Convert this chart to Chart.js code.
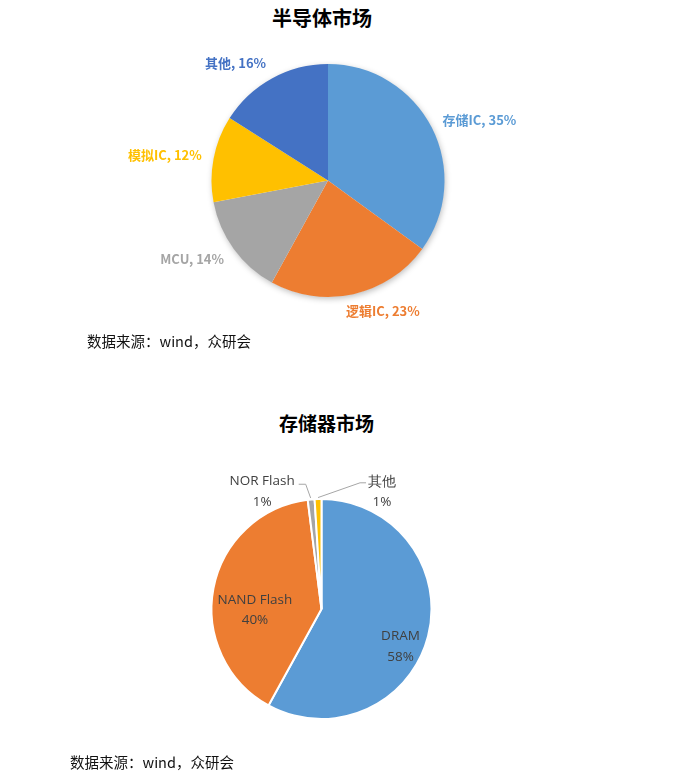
<!DOCTYPE html>
<html>
<head>
<meta charset="utf-8">
<script src="https://cdn.jsdelivr.net/npm/chart.js@4.4.0/dist/chart.umd.min.js"></script>
<style>
  html, body { margin: 0; padding: 0; background: #fff; }
  body { width: 682px; height: 779px; position: relative; overflow: hidden; }
  canvas { position: absolute; left: 0; }
  .title { position: absolute; font-family: "Noto Sans CJK SC", sans-serif; font-weight: bold; color: #000; white-space: nowrap; transform: translate(-50%, -50%); line-height: 1; }
  .src { position: absolute; font-family: "Noto Sans CJK SC", sans-serif; font-size: 14.5px; color: #111; white-space: nowrap; line-height: 1; transform: translateY(-50%); }
</style>
</head>
<body>
<div class="title" style="left:322px; top:18px; font-size:20px;">半导体市场</div>
<canvas id="c1" width="682" height="370" style="top:0;"></canvas>
<div class="src" style="left:87px; top:341px;">数据来源：wind，众研会</div>

<div class="title" style="left:326.5px; top:422px; font-size:19px;">存储器市场</div>
<canvas id="c2" width="682" height="399" style="top:380px;"></canvas>
<div class="src" style="left:70px; top:762px;">数据来源：wind，众研会</div>

<script>
// ---- Data: 半导体市场 ----
const semiLabels = ['存储IC', '逻辑IC', 'MCU', '模拟IC', '其他'];
const semiValues = [35, 23, 14, 12, 16];
const semiColors = ['#5B9BD5', '#ED7D31', '#A5A5A5', '#FFC000', '#4472C4'];

// ---- Data: 存储器市场 ----
const memLabels = ['DRAM', 'NAND Flash', 'NOR Flash', '其他'];
const memValues = [58, 40, 1, 1];
const memColors = ['#5B9BD5', '#ED7D31', '#A5A5A5', '#FFC000'];

// label placement styles for chart 2 (relative to each arc)
const memLabelPlace = [
  { type: 'in', rf: 0.795, da: 11 },
  { type: 'in', rf: 0.605, da: -11.7 },
  { type: 'out', dx: -49, dy: -8, side: 'left' },
  { type: 'out', dx: 64, dy: -7, side: 'right' }
];

const shadowPlugin = {
  id: 'pieShadow',
  beforeDatasetsDraw(chart) {
    const arc = chart.getDatasetMeta(0).data[0];
    if (!arc) return;
    const p = arc.getProps(['x', 'y', 'outerRadius'], true);
    const ctx = chart.ctx;
    ctx.save();
    ctx.shadowColor = 'rgba(0,0,0,0.28)';
    ctx.shadowBlur = 6;
    ctx.shadowOffsetX = 1;
    ctx.shadowOffsetY = 2;
    ctx.fillStyle = '#fff';
    ctx.beginPath();
    ctx.arc(p.x, p.y, p.outerRadius - 0.5, 0, Math.PI * 2);
    ctx.fill();
    ctx.restore();
  }
};

const semiLabelPlugin = {
  id: 'semiLabels',
  afterDatasetsDraw(chart) {
    const ctx = chart.ctx;
    const meta = chart.getDatasetMeta(0);
    ctx.save();
    ctx.font = 'bold 13px "Noto Sans CJK SC", sans-serif';
    ctx.textBaseline = 'middle';
    ctx.textAlign = 'left';
    meta.data.forEach((arc, i) => {
      const p = arc.getProps(['x', 'y', 'startAngle', 'endAngle', 'outerRadius'], true);
      const mid = (p.startAngle + p.endAngle) / 2;
      const c = Math.cos(mid), s = Math.sin(mid);
      const text = semiLabels[i] + ', ' + semiValues[i] + '%';
      const w = ctx.measureText(text).width;
      const ax = p.x + (p.outerRadius + 12) * c;
      const ay = p.y + (p.outerRadius + 8) * s;
      const shift = w / 2 * Math.max(0, 1 - Math.abs(c) / 0.3);
      const left = c >= 0 ? ax - shift : ax + shift - w;
      const yc = ay + s * 9;
      ctx.fillStyle = semiColors[i];
      ctx.fillText(text, left, yc);
    });
    ctx.restore();
  }
};

const memLabelPlugin = {
  id: 'memLabels',
  afterDatasetsDraw(chart) {
    const ctx = chart.ctx;
    const meta = chart.getDatasetMeta(0);
    const lh = 20.5;
    ctx.save();
    ctx.font = '13.5px "Open Sans", sans-serif';
    ctx.textBaseline = 'middle';
    ctx.textAlign = 'center';
    meta.data.forEach((arc, i) => {
      const p = arc.getProps(['x', 'y', 'startAngle', 'endAngle', 'outerRadius'], true);
      const mid = (p.startAngle + p.endAngle) / 2;
      const pl = memLabelPlace[i];
      const l1 = memLabels[i];
      const l2 = memValues[i] + '%';
      let cx, cy;
      if (pl.type === 'in') {
        const a = mid + pl.da * Math.PI / 180;
        cx = p.x + p.outerRadius * pl.rf * Math.cos(a);
        cy = p.y + p.outerRadius * pl.rf * Math.sin(a);
      } else {
        const ex = p.x + p.outerRadius * Math.cos(mid);
        const ey = p.y + p.outerRadius * Math.sin(mid);
        cx = ex + pl.dx;
        cy = ey + pl.dy;
        const w1 = ctx.measureText(l1).width;
        const y1 = cy - lh / 2;
        ctx.strokeStyle = '#A6A6A6';
        ctx.lineWidth = 1;
        ctx.beginPath();
        if (pl.side === 'left') {
          const sx = cx + w1 / 2 + 4, sy = y1 + 3;
          ctx.moveTo(sx, sy);
          ctx.lineTo(sx + 7, sy);
          ctx.lineTo(ex - 0.5, ey - 1.5);
        } else {
          const sx = cx - w1 / 2 - 2, sy = y1 + 1;
          ctx.moveTo(sx, sy);
          ctx.lineTo(sx - 6, sy);
          ctx.lineTo(ex, ey - 1.5);
        }
        ctx.stroke();
      }
      ctx.fillStyle = '#404040';
      ctx.fillText(l1, cx, cy - lh / 2);
      ctx.fillText(l2, cx, cy + lh / 2);
    });
    ctx.restore();
  }
};

const commonOpts = {
  responsive: false,
  animation: false,
  devicePixelRatio: 1,
  plugins: { legend: { display: false }, tooltip: { enabled: false }, title: { display: false } }
};

new Chart(document.getElementById('c1'), {
  type: 'pie',
  data: {
    labels: semiLabels,
    datasets: [{ data: semiValues, backgroundColor: semiColors, borderWidth: 0 }]
  },
  options: Object.assign({}, commonOpts, {
    layout: { padding: { left: 211.5, right: 237.5, top: 64, bottom: 73 } }
  }),
  plugins: [shadowPlugin, semiLabelPlugin]
});

new Chart(document.getElementById('c2'), {
  type: 'pie',
  data: {
    labels: memLabels,
    datasets: [{ data: memValues, backgroundColor: memColors, borderColor: '#ffffff', borderWidth: 2 }]
  },
  options: Object.assign({}, commonOpts, {
    layout: { padding: { left: 210.5, right: 249.5, top: 118, bottom: 59 } }
  }),
  plugins: [memLabelPlugin]
});
</script>
</body>
</html>
